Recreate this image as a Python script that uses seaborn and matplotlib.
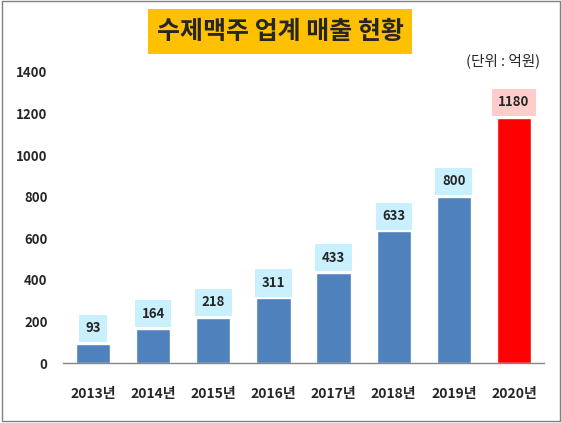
import seaborn as sns
import matplotlib.pyplot as plt
import matplotlib.patches as patches
import pandas as pd

# data
years = ['2013년', '2014년', '2015년', '2016년', '2017년', '2018년', '2019년', '2020년']
sales = [93, 164, 218, 311, 433, 633, 800, 1180]
bar_colors = ['#4F81BD'] * 7 + ['#FF0000']
box_colors = ['#C9F0FF'] * 7 + ['#FFCCCC']
yticks = [0, 200, 400, 600, 800, 1000, 1200, 1400]

df = pd.DataFrame({'year': years, 'sales': sales})

sns.set_style('white')
plt.rcParams['font.family'] = ['Noto Sans CJK KR', 'DejaVu Sans']

fig = plt.figure(figsize=(5.61, 4.23), dpi=100)
ax = fig.add_axes([0.1123, 0.1418, 0.8574, 0.688])

sns.barplot(data=df, x='year', y='sales', hue='year', palette=bar_colors,
            legend=False, width=0.57, saturation=1, ax=ax)

# value labels in coloured boxes above each bar
for i, v in enumerate(sales):
    ax.annotate(str(v), xy=(i, v), xytext=(0, 11), textcoords='offset points',
                ha='center', va='center', fontsize=9.5, fontweight='bold',
                bbox=dict(boxstyle='square,pad=0.5', facecolor=box_colors[i], edgecolor='none'))

ax.set_ylim(0, 1400)
ax.set_yticks(yticks)
ax.set_xlabel('')
ax.set_ylabel('')
ax.tick_params(axis='y', length=0, pad=11, labelsize=9.5)
ax.tick_params(axis='x', length=0, pad=17, labelsize=10)
for lab in ax.get_xticklabels() + ax.get_yticklabels():
    lab.set_fontweight('bold')

for s in ['top', 'right', 'left']:
    ax.spines[s].set_visible(False)
ax.spines['bottom'].set_color('#868686')
ax.spines['bottom'].set_linewidth(1)

# title box and unit note
fig.patches.append(patches.Rectangle((148 / 561, 1 - 54 / 423), 264 / 561, 45 / 423,
                                     transform=fig.transFigure, facecolor='#FFC000',
                                     edgecolor='none', zorder=0))
fig.text(280 / 561, 1 - 32 / 423, '수제맥주 업계 매출 현황', ha='center', va='center',
         fontsize=18, fontweight='bold')
fig.text(0.963, 0.856, '(단위 : 억원)', ha='right', va='center', fontsize=10.5,
         fontweight='medium')

# outer frame
fig.patches.append(patches.Rectangle((1.5 / 561, 1 - 420.5 / 423), 558 / 561, 419 / 423,
                                     transform=fig.transFigure, fill=False,
                                     edgecolor='#808080', linewidth=1))

plt.savefig('out.png', dpi=100)
plt.close()
